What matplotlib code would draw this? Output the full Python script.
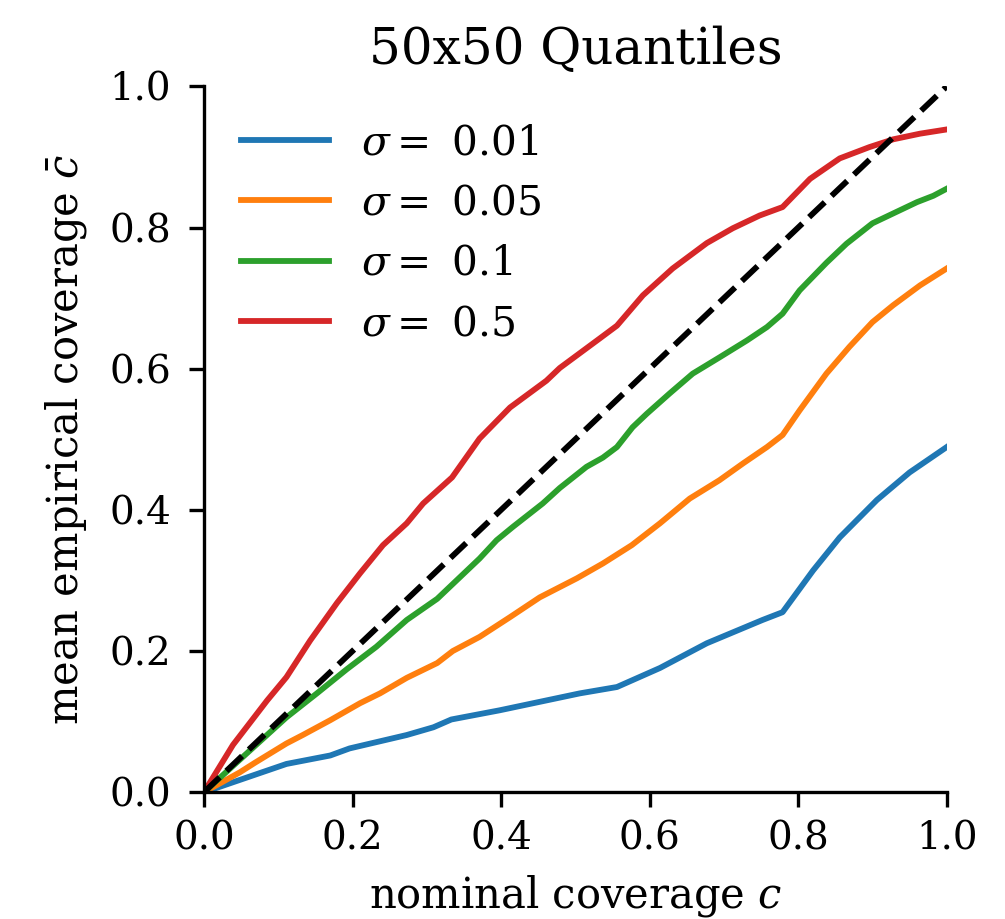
import numpy as np
import matplotlib
matplotlib.use('Agg')
import matplotlib.pyplot as plt

plt.rcParams['font.family'] = 'DejaVu Serif'
plt.rcParams['mathtext.fontset'] = 'dejavuserif'
plt.rcParams['font.size'] = 14
plt.rcParams['axes.linewidth'] = 1.2
plt.rcParams['xtick.major.size'] = 5.3
plt.rcParams['ytick.major.size'] = 5.3
plt.rcParams['xtick.major.width'] = 1.2
plt.rcParams['ytick.major.width'] = 1.2
plt.rcParams['xtick.major.pad'] = 4.9
plt.rcParams['ytick.major.pad'] = 6.5

x_s001 = [0.0, 0.111, 0.17, 0.196, 0.273, 0.309, 0.333, 0.398, 0.443, 0.506, 0.556,
          0.614, 0.677, 0.752, 0.779, 0.82, 0.856, 0.906, 0.95, 1.0]
y_s001 = [0.0, 0.040, 0.052, 0.062, 0.081, 0.092, 0.103, 0.116, 0.126, 0.140, 0.149,
          0.176, 0.211, 0.244, 0.255, 0.314, 0.361, 0.414, 0.453, 0.489]

x_s005 = [0.0, 0.048, 0.069, 0.111, 0.133, 0.170, 0.210, 0.237, 0.273, 0.314, 0.335,
          0.371, 0.412, 0.452, 0.502, 0.537, 0.576, 0.614, 0.654, 0.694, 0.726,
          0.758, 0.779, 0.802, 0.838, 0.869, 0.900, 0.928, 0.964, 1.0]
y_s005 = [0.0, 0.028, 0.042, 0.069, 0.081, 0.102, 0.126, 0.140, 0.162, 0.183, 0.200,
          0.220, 0.248, 0.276, 0.303, 0.324, 0.350, 0.381, 0.416, 0.442, 0.466,
          0.489, 0.506, 0.541, 0.593, 0.631, 0.666, 0.690, 0.718, 0.742]

x_s01 = [0.0, 0.111, 0.152, 0.192, 0.232, 0.273, 0.314, 0.335, 0.371, 0.394, 0.416,
         0.456, 0.479, 0.515, 0.537, 0.556, 0.577, 0.596, 0.627, 0.658, 0.694,
         0.731, 0.758, 0.779, 0.802, 0.838, 0.865, 0.900, 0.928, 0.960, 0.982, 1.0]
y_s01 = [0.0, 0.106, 0.140, 0.174, 0.206, 0.244, 0.274, 0.295, 0.331, 0.357, 0.376,
         0.409, 0.431, 0.461, 0.474, 0.489, 0.517, 0.536, 0.565, 0.593, 0.616,
         0.640, 0.659, 0.678, 0.711, 0.750, 0.777, 0.806, 0.820, 0.836, 0.845, 0.855]

x_s05 = [0.0, 0.039, 0.085, 0.111, 0.143, 0.179, 0.210, 0.241, 0.273, 0.295, 0.334,
         0.371, 0.412, 0.461, 0.479, 0.533, 0.556, 0.591, 0.631, 0.677, 0.712,
         0.748, 0.779, 0.816, 0.856, 0.896, 0.928, 0.964, 1.0]
y_s05 = [0.0, 0.067, 0.130, 0.163, 0.215, 0.268, 0.310, 0.350, 0.381, 0.409, 0.446,
         0.501, 0.545, 0.583, 0.601, 0.643, 0.661, 0.704, 0.742, 0.778, 0.799,
         0.817, 0.829, 0.869, 0.898, 0.914, 0.925, 0.933, 0.939]

series = [
    (x_s001, y_s001, '0.01'),
    (x_s005, y_s005, '0.05'),
    (x_s01, y_s01, '0.1'),
    (x_s05, y_s05, '0.5'),
]

fig = plt.figure(figsize=(5.025, 4.595), dpi=200)
axs = fig.add_axes([0.203, 0.138, 0.739, 0.768])

for xs, ys, sigma in series:
    axs.plot(xs, ys, lw=2.1, label=r'$\sigma = $ ' + sigma)

axs.plot([0, 1], [0, 1], 'k--', lw=2.1)

# Formato de ejes
axs.set_xlim(0, 1)
axs.set_ylim(0, 1)
axs.set_xticks(np.arange(0, 1.01, 0.2))
axs.set_yticks(np.arange(0, 1.01, 0.2))
axs.spines['top'].set_visible(False)
axs.spines['right'].set_visible(False)
axs.set_xlabel(r'nominal coverage $c$', fontsize=15, labelpad=5.6)
axs.set_ylabel(r'mean empirical coverage $\bar{c}$', fontsize=15, labelpad=7.5)
axs.set_title('50x50 Quantiles', fontsize=18, pad=8)
axs.legend(loc='upper left', frameon=False, fontsize=14.7, handlelength=2.15,
           borderaxespad=0.5, labelspacing=0.5)

plt.savefig('out.png', dpi=200)
plt.close()
